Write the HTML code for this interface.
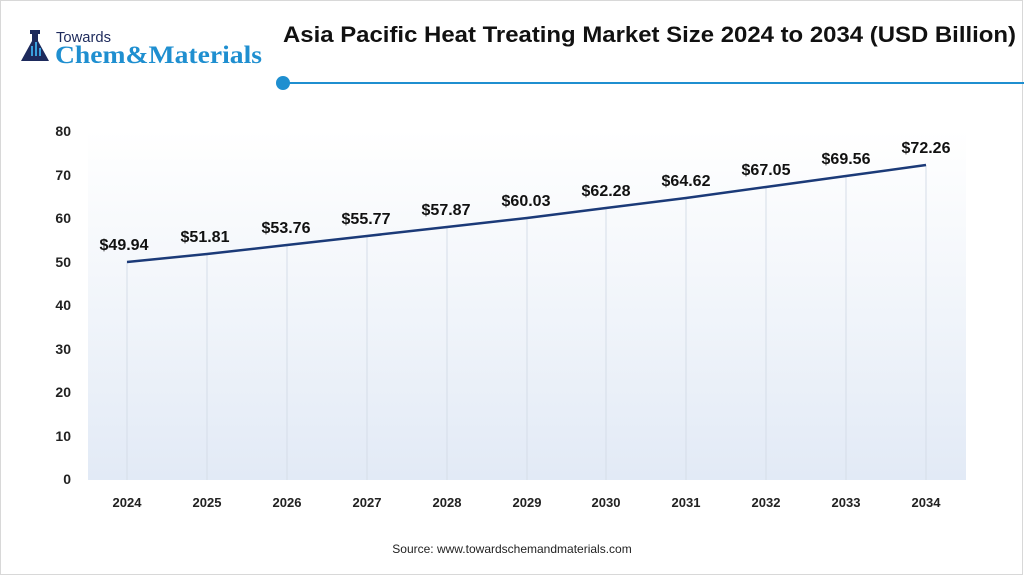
<!DOCTYPE html>
<html><head><meta charset="utf-8"><style>
body{margin:0;background:#fff}
svg{display:block;font-family:"Liberation Sans",sans-serif}
</style></head><body>
<svg width="1024" height="576" viewBox="0 0 1024 576" xmlns="http://www.w3.org/2000/svg">
<defs><linearGradient id="g" x1="0" y1="0" x2="0" y2="1">
<stop offset="0" stop-color="#ffffff"/><stop offset="0.4" stop-color="#f4f7fb"/><stop offset="1" stop-color="#e2eaf6"/></linearGradient></defs>
<rect x="0.5" y="0.5" width="1022" height="574" fill="#fff" stroke="#d8d8d8"/>
<rect x="88" y="130" width="878" height="350" fill="url(#g)"/>
<g stroke="#d5dde8" stroke-width="1">
<line x1="127" y1="262" x2="127" y2="480"/><line x1="207" y1="254" x2="207" y2="480"/><line x1="287" y1="245" x2="287" y2="480"/><line x1="367" y1="236" x2="367" y2="480"/><line x1="447" y1="227" x2="447" y2="480"/><line x1="527" y1="218" x2="527" y2="480"/><line x1="606" y1="208" x2="606" y2="480"/><line x1="686" y1="198" x2="686" y2="480"/><line x1="766" y1="187" x2="766" y2="480"/><line x1="846" y1="176" x2="846" y2="480"/><line x1="926" y1="165" x2="926" y2="480"/>
</g>
<g>
<rect x="30" y="30" width="10" height="4" fill="#1d2a5c"/>
<path d="M32 34 h6 v7 l11 20 h-28 l11 -20z" fill="#1d2a5c"/>
<rect x="31" y="46" width="2" height="10" fill="#3aa0dc"/><rect x="35" y="42" width="2" height="14" fill="#3aa0dc"/><rect x="39" y="48" width="2" height="8" fill="#3aa0dc"/>
<text x="56" y="42" font-size="15" fill="#1d2a5c" textLength="55" lengthAdjust="spacingAndGlyphs">Towards</text>
<text x="55" y="63" font-size="25" font-weight="bold" fill="#1f8fd0" font-family="Liberation Serif,serif" textLength="207" lengthAdjust="spacingAndGlyphs">Chem&amp;Materials</text>
</g>
<text x="283" y="42" font-size="22" font-weight="bold" fill="#111" textLength="733" lengthAdjust="spacingAndGlyphs">Asia Pacific Heat Treating Market Size 2024 to 2034 (USD Billion)</text>
<line x1="283" y1="83" x2="1024" y2="83" stroke="#1f8fd0" stroke-width="2"/>
<circle cx="283" cy="83" r="7" fill="#1f8fd0"/>
<g font-size="14" font-weight="bold" fill="#222" text-anchor="end">
<text x="71" y="136">80</text><text x="71" y="180">70</text><text x="71" y="223">60</text><text x="71" y="267">50</text><text x="71" y="310">40</text><text x="71" y="354">30</text><text x="71" y="397">20</text><text x="71" y="441">10</text><text x="71" y="484">0</text>
</g>
<g font-size="13" font-weight="bold" fill="#222" text-anchor="middle">
<text x="127" y="507">2024</text><text x="207" y="507">2025</text><text x="287" y="507">2026</text><text x="367" y="507">2027</text><text x="447" y="507">2028</text><text x="527" y="507">2029</text><text x="606" y="507">2030</text><text x="686" y="507">2031</text><text x="766" y="507">2032</text><text x="846" y="507">2033</text><text x="926" y="507">2034</text>
</g>
<polyline fill="none" stroke="#1b3a78" stroke-width="2.5" points="127,262 207,254 287,245 367,236 447,227 527,218 606,208 686,198 766,187 846,176 926,165"/>
<g font-size="16" font-weight="bold" fill="#111" text-anchor="middle">
<text x="124" y="250">$49.94</text><text x="205" y="242">$51.81</text><text x="286" y="233">$53.76</text><text x="366" y="224">$55.77</text><text x="446" y="215">$57.87</text><text x="526" y="206">$60.03</text><text x="606" y="196">$62.28</text><text x="686" y="186">$64.62</text><text x="766" y="175">$67.05</text><text x="846" y="164">$69.56</text><text x="926" y="153">$72.26</text>
</g>
<text x="512" y="553" font-size="12" fill="#222" text-anchor="middle">Source: www.towardschemandmaterials.com</text>
</svg>
</body></html>
